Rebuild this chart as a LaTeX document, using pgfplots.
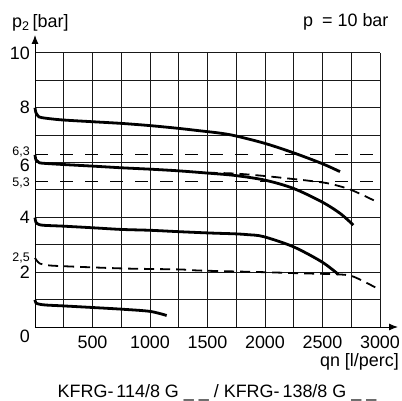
\documentclass[border=0pt]{standalone}
\usepackage{fontspec}
\setmainfont{Liberation Sans}
\usepackage{pgfplots}
\pgfplotsset{compat=1.18}
\usetikzlibrary{arrows.meta}
\begin{document}
\begin{tikzpicture}
\useasboundingbox (-35bp,-74bp) rectangle (367bp,327bp);
\begin{axis}[
  at={(0,0)}, anchor=south west,
  scale only axis, width=345bp, height=274bp,
  xmin=0, xmax=3000, ymin=0, ymax=10,
  enlargelimits=false, clip=false,
  axis lines=left,
  axis line style={-{Latex[length=9bp,width=7bp]}, shorten >=-18bp, line width=1bp},
  xtick={0,250,...,3000},
  xticklabels={,,500,,1000,,1500,,2000,,2500,,3000},
  ytick={0,1,...,10},
  yticklabels={,,2,,4,,\raisebox{-2.5bp}[12.5bp][0bp]{6},,8,,10},
  major tick length=0pt,
  grid=major,
  grid style={black!90, line width=1bp},
  /pgf/number format/assume math mode=true,
  ticklabel style={font=\fontsize{18}{21}\selectfont},
  xticklabel style={yshift=-5bp},
  yticklabel style={inner sep=1bp, xshift=-4bp},
]
\addplot[black, line width=2.8bp, smooth, tension=0.5] coordinates {
(0,8.0) (8,7.82) (26,7.70) (60,7.64) (229,7.56) (507,7.49) (754,7.43) (1000,7.35) (1246,7.25) (1435,7.16) (1600,7.08) (1739,6.98) (2000,6.70) (2246,6.36) (2493,5.97) (2652,5.67)};
\addplot[black, line width=2.8bp, smooth, tension=0.5] coordinates {
(0,6.28) (8,6.10) (30,6.02) (60,5.98) (246,5.93) (507,5.87) (754,5.81) (1000,5.76) (1246,5.70) (1522,5.61) (1739,5.53) (2000,5.36) (2246,5.06) (2493,4.57) (2652,4.15) (2768,3.72)};
\addplot[black, line width=1.8bp, smooth, tension=0.5, dash pattern=on 10bp off 6bp] coordinates {
(1500,5.63) (1739,5.60) (2000,5.51) (2246,5.40) (2377,5.34) (2551,5.24) (2739,5.02) (2942,4.63) (2970,4.55)};
\addplot[black, line width=2.8bp, smooth, tension=0.5] coordinates {
(0,3.99) (8,3.82) (35,3.74) (80,3.71) (246,3.68) (507,3.62) (754,3.56) (1000,3.53) (1246,3.48) (1522,3.43) (1739,3.40) (1850,3.37) (1986,3.30) (2246,2.93) (2493,2.38) (2638,1.92)};
\addplot[black, line width=1.8bp, smooth, tension=0.5, dash pattern=on 10bp off 6bp] coordinates {
(0,2.52) (11,2.45) (40,2.32) (100,2.26) (188,2.23) (536,2.17) (826,2.13) (1261,2.10) (1435,2.06) (2000,2.00) (2304,1.96) (2638,1.92) (2768,1.84) (2971,1.42)};
\addplot[black, line width=2.8bp, smooth, tension=0.5] coordinates {
(0,0.99) (8,0.88) (40,0.83) (100,0.80) (246,0.77) (507,0.71) (754,0.65) (1000,0.57) (1145,0.42)};
\addplot[black, line width=1bp, dash pattern=on 13bp off 12bp] coordinates {(0,6.3) (3000,6.3)};
\addplot[black, line width=1bp, dash pattern=on 13bp off 12bp] coordinates {(0,5.3) (3000,5.3)};
\node[anchor=east, inner sep=0pt, font=\fontsize{12.5}{14}\selectfont] at ([xshift=-5bp,yshift=2bp]axis cs:0,6.3) {6,3};
\node[anchor=east, inner sep=0pt, font=\fontsize{12.5}{14}\selectfont] at ([xshift=-5bp,yshift=-1bp]axis cs:0,5.3) {5,3};
\node[anchor=east, inner sep=0pt, font=\fontsize{12.5}{14}\selectfont] at ([xshift=-5bp,yshift=1bp]axis cs:0,2.5) {2,5};
\node[anchor=north east, inner sep=0pt, font=\fontsize{18}{21}\selectfont] at ([xshift=-5bp,yshift=-3bp]axis cs:0,0) {0};
\end{axis}
\node[anchor=base west, inner sep=0pt, font=\fontsize{18}{21}\selectfont] at (-23bp,299bp) {p\textsubscript{2}\,[bar]};
\node[anchor=base west, inner sep=0pt, font=\fontsize{18}{21}\selectfont] at (268bp,300bp) {p\enspace= 10 bar};
\node[anchor=base east, inner sep=0pt, font=\fontsize{18}{21}\selectfont] at (364bp,-39bp) {qn [l/perc]};
\node[anchor=base, inner sep=0pt, font=\fontsize{18}{21}\selectfont] at (182bp,-70bp) {KFRG-\,114/8 G \_ \_ / KFRG-\,138/8 G \_ \_};
\end{tikzpicture}
\end{document}
